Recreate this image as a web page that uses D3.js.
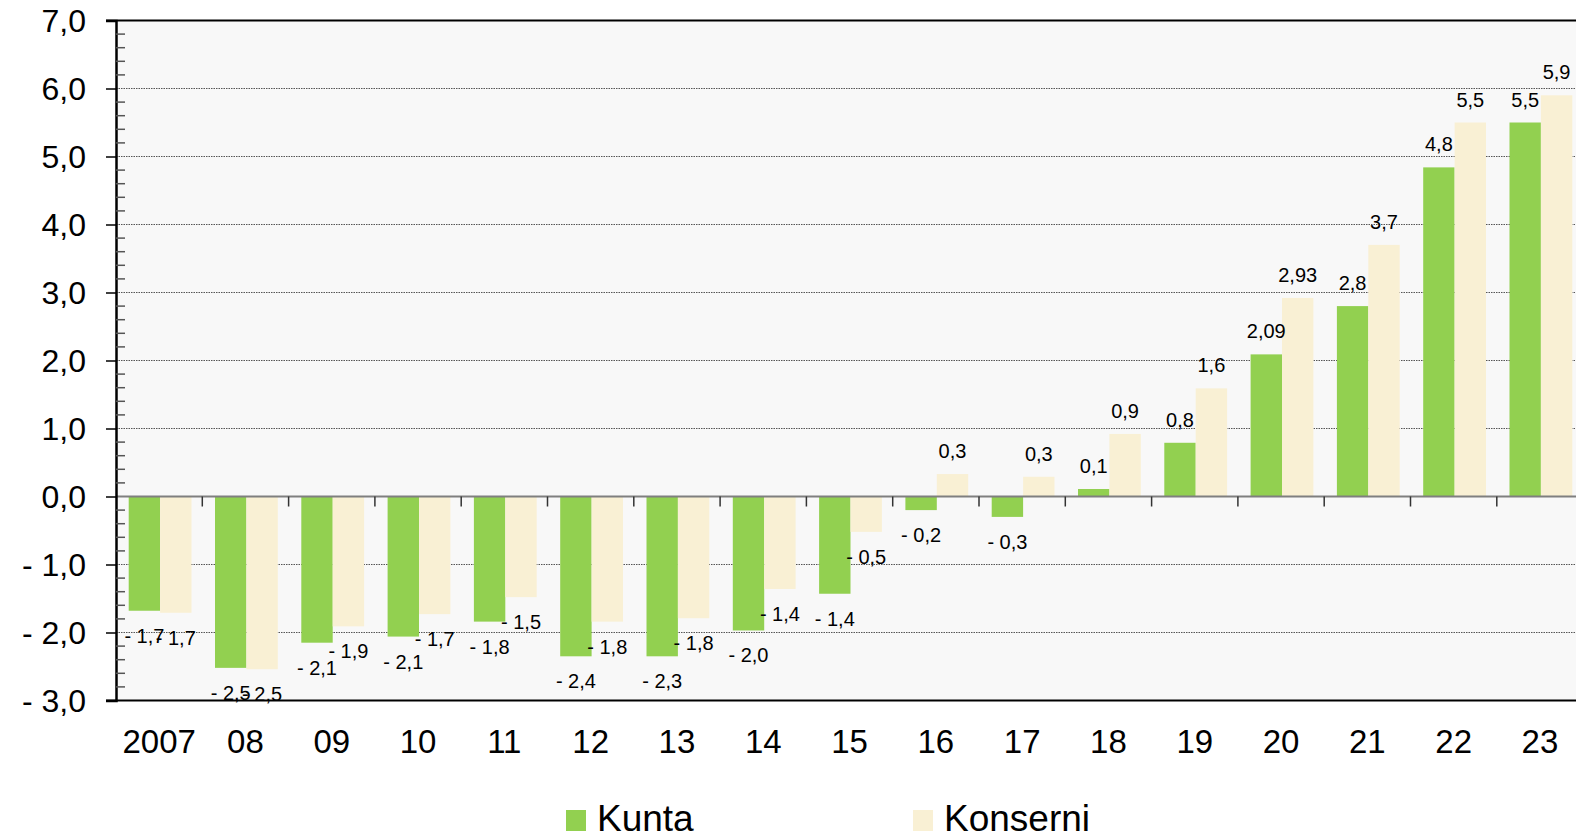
<!DOCTYPE html>
<html>
<head>
<meta charset="utf-8">
<script src="https://cdn.jsdelivr.net/npm/d3@7"></script>
<style>
  html, body { margin: 0; padding: 0; background: #ffffff; }
  svg { display: block; font-family: "Liberation Sans", Arial, sans-serif; }
</style>
</head>
<body>
<svg id="chart" width="1576" height="839"></svg>
<script>
// ---- data ----
const categories = ["2007","08","09","10","11","12","13","14","15","16","17","18","19","20","21","22","23"];
const seriesNames = ["Kunta", "Konserni"];
const kuntaValues = [-1.68, -2.52, -2.15, -2.06, -1.84, -2.35, -2.35, -1.97, -1.43, -0.20, -0.30, 0.11, 0.79, 2.09, 2.80, 4.84, 5.50];
const konserniValues = [-1.71, -2.54, -1.91, -1.73, -1.48, -1.84, -1.79, -1.36, -0.52, 0.33, 0.29, 0.92, 1.59, 2.92, 3.70, 5.50, 5.90];
const kuntaLabels = ["- 1,7","- 2,5","- 2,1","- 2,1","- 1,8","- 2,4","- 2,3","- 2,0","- 1,4","- 0,2","- 0,3","0,1","0,8","2,09","2,8","4,8","5,5"];
const konserniLabels = ["- 1,7","- 2,5","- 1,9","- 1,7","- 1,5","- 1,8","- 1,8","- 1,4","- 0,5","0,3","0,3","0,9","1,6","2,93","3,7","5,5","5,9"];
const yTickValues = [-3, -2, -1, 0, 1, 2, 3, 4, 5, 6, 7];
const yTickLabels = ["- 3,0","- 2,0","- 1,0","0,0","1,0","2,0","3,0","4,0","5,0","6,0","7,0"];
const colors = { Kunta: "#92d050", Konserni: "#f9f0d4" };

(function () {
// ---- layout ----
const svg = d3.select("#chart");
const pLeft = 116, pTop = 20.5, pBottom = 700.5, catW = 86.3;
const pRight = pLeft + categories.length * catW;

const x = d3.scaleBand().domain(categories).range([pLeft, pRight]).padding(0);
const xInner = d3.scaleBand().domain(seriesNames).range([12.7, 75.5]).padding(0);
const y = d3.scaleLinear().domain([-3, 7]).range([pBottom, pTop]);

// plot background
svg.append("rect").attr("x", pLeft).attr("y", pTop).attr("width", 1576 - pLeft).attr("height", pBottom - pTop).attr("fill", "#f8f8f8");

// gridlines (dotted)
svg.append("g").selectAll("line")
  .data(yTickValues.filter(v => v !== 0 && v !== 7 && v !== -3))
  .join("line")
  .attr("x1", pLeft).attr("x2", 1576)
  .attr("y1", d => y(d)).attr("y2", d => y(d))
  .attr("stroke", "#555").attr("stroke-width", 1).attr("stroke-dasharray", "1.5 1");

// bars
const rows = categories.map((c, i) => ({ cat: c, vals: [
  { s: "Kunta", v: kuntaValues[i], lab: kuntaLabels[i] },
  { s: "Konserni", v: konserniValues[i], lab: konserniLabels[i] }
]}));

const groups = svg.append("g").selectAll("g")
  .data(rows).join("g")
  .attr("transform", d => `translate(${x(d.cat)},0)`);

groups.selectAll("rect").data(d => d.vals).join("rect")
  .attr("x", d => xInner(d.s))
  .attr("width", xInner.bandwidth())
  .attr("y", d => Math.min(y(d.v), y(0)))
  .attr("height", d => Math.abs(y(d.v) - y(0)))
  .attr("fill", d => colors[d.s]);

// zero line
svg.append("line").attr("x1", pLeft).attr("x2", 1576).attr("y1", y(0)).attr("y2", y(0))
  .attr("stroke", "#7f7f7f").attr("stroke-width", 2);

// x ticks at category boundaries
svg.append("g").selectAll("line")
  .data(categories.slice(1))
  .join("line")
  .attr("x1", d => x(d)).attr("x2", d => x(d))
  .attr("y1", y(0)).attr("y2", y(0) + 10)
  .attr("stroke", "#333").attr("stroke-width", 1.5);

// data labels
groups.selectAll("text").data(d => d.vals).join("text")
  .attr("x", d => xInner(d.s) + xInner.bandwidth() / 2)
  .attr("y", d => d.v >= 0 ? y(d.v) - 16 : y(d.v) + 32)
  .attr("text-anchor", "middle")
  .attr("font-size", 20)
  .attr("fill", "#000")
  .text(d => d.lab);

// top and bottom borders
svg.append("line").attr("x1", pLeft - 10).attr("x2", 1576).attr("y1", pTop).attr("y2", pTop)
  .attr("stroke", "#000").attr("stroke-width", 2);
svg.append("line").attr("x1", pLeft - 10).attr("x2", 1576).attr("y1", pBottom).attr("y2", pBottom)
  .attr("stroke", "#000").attr("stroke-width", 2);

// y axis
const yAxis = d3.axisLeft(y).tickValues(yTickValues).tickSize(10)
  .tickFormat((d, i) => yTickLabels[i]).tickPadding(20);
const ga = svg.append("g").attr("transform", `translate(${pLeft},0)`).call(yAxis);
ga.select(".domain").attr("stroke", "#000").attr("stroke-width", 2.5);
ga.selectAll(".tick line").attr("stroke", "#000").attr("stroke-width", 1.5);
ga.selectAll(".tick text").attr("font-size", 32).attr("fill", "#000")
  .attr("font-family", "'Liberation Sans', Arial, sans-serif").attr("dy", "0.34em");

// minor ticks inside
const minor = d3.range(-3, 7.001, 0.2).filter(v => Math.abs(v - Math.round(v)) > 0.01);
svg.append("g").selectAll("line").data(minor).join("line")
  .attr("x1", pLeft).attr("x2", pLeft + 9)
  .attr("y1", d => y(d)).attr("y2", d => y(d))
  .attr("stroke", "#555").attr("stroke-width", 1.5);

// x labels
svg.append("g").selectAll("text").data(categories).join("text")
  .attr("x", d => x(d) + x.bandwidth() / 2)
  .attr("y", 753)
  .attr("text-anchor", "middle")
  .attr("font-size", 33)
  .attr("fill", "#000")
  .text(d => d);

// legend
const legendX = { Kunta: 566, Konserni: 913 };
const lg = svg.append("g").selectAll("g").data(seriesNames).join("g")
  .attr("transform", d => `translate(${legendX[d]},0)`);
lg.append("rect").attr("x", 0).attr("y", 810).attr("width", 20).attr("height", 21)
  .attr("fill", d => colors[d]);
lg.append("text").attr("x", 31).attr("y", 831).attr("font-size", 37).attr("fill", "#000").text(d => d);
})();
</script>
</body>
</html>
